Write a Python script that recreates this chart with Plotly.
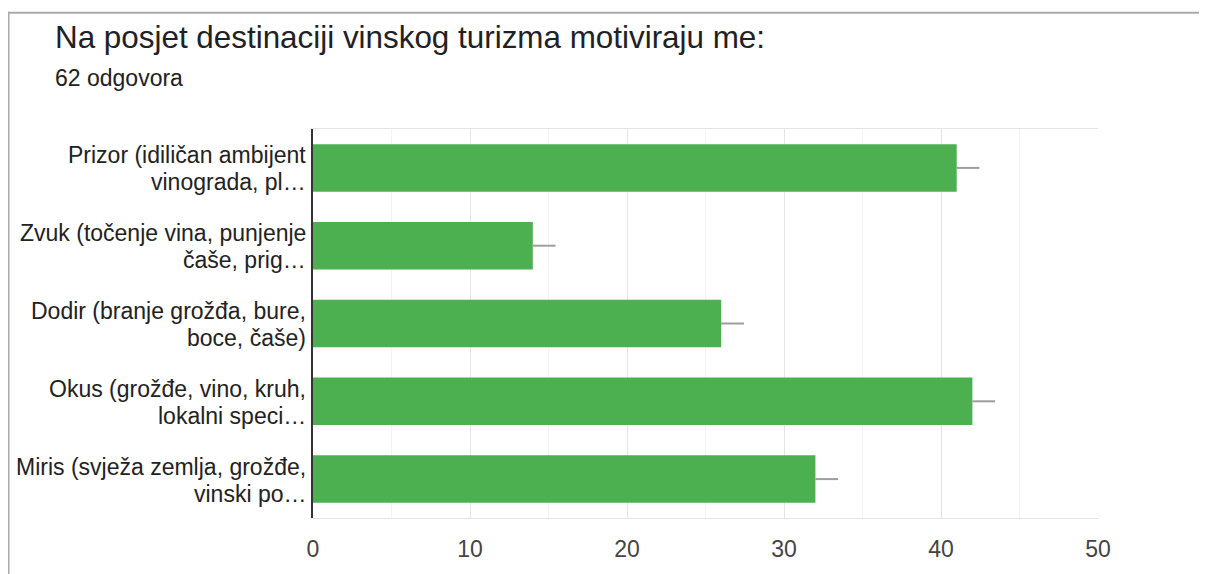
import plotly.graph_objects as go

# Data
categories = [
    "Prizor (idiličan ambijent<br>vinograda, pl…",
    "Zvuk (točenje vina, punjenje<br>čaše, prig…",
    "Dodir (branje grožđa, bure,<br>boce, čaše)",
    "Okus (grožđe, vino, kruh,<br>lokalni speci…",
    "Miris (svježa zemlja, grožđe,<br>vinski po…",
]
values = [41, 14, 26, 42, 32]
errors = [1.45, 1.45, 1.45, 1.45, 1.45]
x_ticks = [0, 10, 20, 30, 40, 50]

title_text = "Na posjet destinaciji vinskog turizma motiviraju me:"
subtitle_text = "62 odgovora"

FONT = "Arial, 'Liberation Sans', sans-serif"
OFF = 8  # page body margin
W, H = 1207 - OFF, 574 - OFF
L, R, T, B = 305, 109, 121, 50
pw, ph = W - L - R, H - T - B


def px2x(sx):
    return (sx - OFF - L) / pw


def py2y(sy):
    return (H - B - (sy - OFF)) / ph


fig = go.Figure()
fig.add_trace(go.Bar(
    x=values,
    y=categories,
    orientation="h",
    marker=dict(color="#4CAF50", line=dict(width=0)),
    width=0.61,
    error_x=dict(type="data", symmetric=False, array=errors,
                 arrayminus=[0] * len(errors), color="#9e9e9e",
                 thickness=2, width=0),
    hoverinfo="x+y",
))

annotations = []
for cat in categories:
    lines = cat.split("<br>")
    shifts = [13.5, -13.5] if len(lines) == 2 else [0]
    for line, sh in zip(lines, shifts):
        annotations.append(dict(
            x=0, xref="paper", xanchor="right", xshift=-5,
            y=cat, yref="y", yanchor="middle", yshift=sh - 1,
            text=line, showarrow=False,
            font=dict(family=FONT, size=23, color="#222222"),
        ))

annotations.append(dict(
    x=px2x(53), xref="paper", xanchor="left",
    y=py2y(77), yref="paper", yanchor="middle",
    text=subtitle_text, showarrow=False,
    font=dict(family=FONT, size=23, color="#202124"),
))

fig.update_layout(
    width=W, height=H, autosize=False,
    margin=dict(l=L, r=R, t=T, b=B, pad=0),
    paper_bgcolor="white", plot_bgcolor="white",
    showlegend=False,
    bargap=0.39,
    title=dict(
        text=title_text, x=(55 - OFF) / W, xanchor="left", xref="container",
        y=1 - (37 - OFF) / H, yanchor="middle", yref="container",
        font=dict(family=FONT, size=31.4, color="#202124"),
    ),
    xaxis=dict(
        range=[0, 50], tickvals=x_ticks, ticktext=[str(v) for v in x_ticks],
        showgrid=True, gridcolor="#e4e4e4", gridwidth=1,
        minor=dict(dtick=5, showgrid=True, gridcolor="#f3f3f3", gridwidth=1),
        zeroline=False,
        showline=True, mirror=True, linecolor="#e4e4e4", linewidth=1,
        tickfont=dict(family=FONT, size=23, color="#444444"),
        ticklabelstandoff=10,
        fixedrange=True,
    ),
    yaxis=dict(
        autorange="reversed",
        showticklabels=False,
        showgrid=False, zeroline=False,
        showline=True, linecolor="#333333", linewidth=2,
        fixedrange=True,
    ),
    annotations=annotations,
    shapes=[
        dict(type="line", xref="paper", yref="paper",
             x0=px2x(8), x1=px2x(1240), y0=py2y(11), y1=py2y(11),
             line=dict(color="#aaaaaa", width=2)),
        dict(type="line", xref="paper", yref="paper",
             x0=px2x(8.5), x1=px2x(8.5), y0=py2y(10), y1=py2y(620),
             line=dict(color="#aaaaaa", width=2)),
    ],
)

fig.write_html("out.html")
